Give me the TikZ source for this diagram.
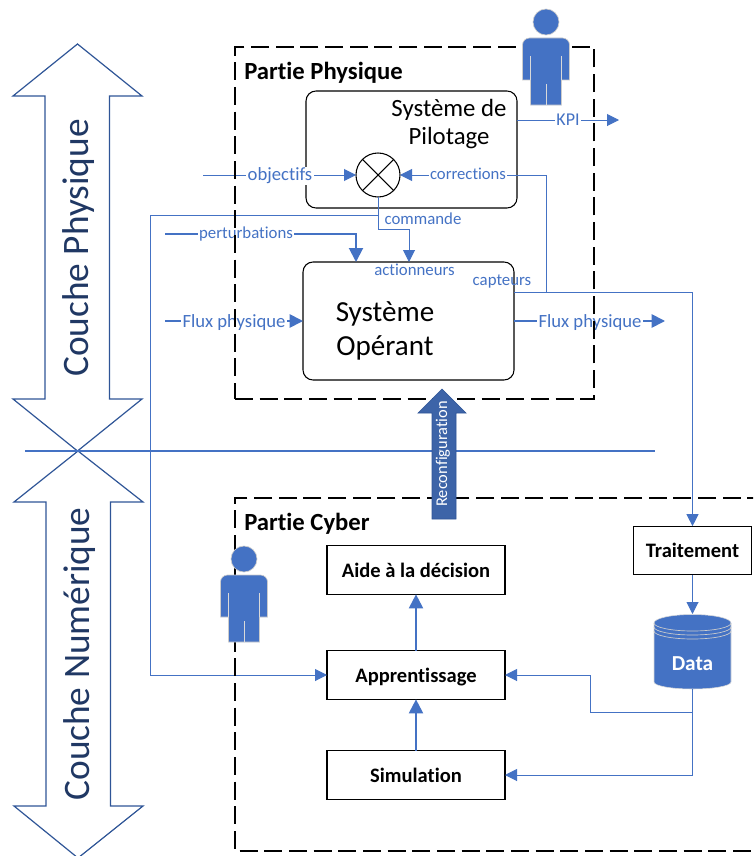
\documentclass[tikz,border=0pt]{standalone}
\usepackage{fontspec}
\setmainfont[Ligatures=NoCommon]{Carlito}
\usetikzlibrary{arrows.meta,calc}
\definecolor{bl}{HTML}{4472C4}
\definecolor{dk}{HTML}{2F5597}
\definecolor{dktxt}{HTML}{203864}
\definecolor{rec}{HTML}{3D64A8}
\newcommand{\fsz}[2]{\fontsize{#1}{#2}\selectfont}
\tikzset{
  x=0.75pt,y=-0.75pt,
  wire/.style={draw=bl,line width=0.75pt,-{Triangle[length=9pt,width=9pt]}},
  plainwire/.style={draw=bl,line width=0.75pt},
  fatwire/.style={draw=bl,line width=1.5pt,-{Triangle[length=10.5pt,width=10.5pt]}},
  fluxwire/.style={draw=bl,line width=1.3pt,-{Triangle[length=10pt,width=10pt]}},
  partbox/.style={draw=black,line width=1.5pt,dash pattern=on 13.5pt off 5pt},
  parttitle/.style={anchor=west,inner sep=0pt,font=\fsz{18.5}{22}\bfseries},
  sysbox/.style={draw=black,line width=0.8pt,rounded corners=7.5pt,fill=white,inner sep=0pt,outer sep=0pt},
  procbox/.style={draw=black,line width=0.8pt,fill=white,inner sep=0pt,outer sep=0pt,font=\fsz{15.4}{18}\bfseries,minimum height=36.5pt,text height=13.5pt,text depth=3pt},
  wlabel/.style={fill=white,inner sep=1pt,text=bl,font=\fsz{14}{16}},
  slabel/.style={inner sep=0pt,text=bl,font=\fsz{12.6}{15}},
  bigarrow/.style={draw=dk,line width=0.9pt,fill=white},
  layertxt/.style={rotate=90,text=dktxt,inner sep=0pt,font=\fsz{28}{32}},
  person/.pic={
    \fill[bl,draw=black!20,line width=0.5pt] (0,0) circle (13);
    \fill[bl,draw=black!20,line width=0.5pt] (-15.5,83) -- (-15.5,58) -- (-23.5,58) -- (-23.5,23)
      arc[start angle=180,end angle=270,radius=7] -- (16.5,16)
      arc[start angle=270,end angle=360,radius=7] -- (23.5,58) -- (15.5,58) -- (15.5,83) -- cycle;
    \draw[black!15,line width=0.5pt] (-15.5,34) -- (-15.5,58) (15.5,34) -- (15.5,58) (0,62) -- (0,83);
  },
}
\begin{document}
\begin{tikzpicture}
\useasboundingbox (0,0) rectangle (753,856);
\clip (0,0) rectangle (753,856);

% layer arrows
\draw[bigarrow] (77.5,44) -- (142,96) -- (109.5,96) -- (109.5,399) -- (142,399) -- (77.5,451) -- (13,399) -- (45,399) -- (45,96) -- (13,96) -- cycle;
\draw[bigarrow] (78,451) -- (143,502) -- (110.5,502) -- (110.5,806) -- (143,806) -- (78,858) -- (14,806) -- (46,806) -- (46,502) -- (14,502) -- cycle;
\node[layertxt] (cphys) at (79,248) {Couche Physique};
\node[layertxt] (cnum) at (80,654) {Couche Numérique};

% physical blocks
\node[sysbox,minimum width=158.25pt,minimum height=87.75pt] (pilot) at (411.5,149.5) {};
\node[sysbox,minimum width=158.25pt,minimum height=88.5pt] (oper) at (408.5,321) {};
\node[inner sep=0pt,align=center,font=\fsz{18.6}{21.6}] (pilottxt) at (449,124) {Système de\\Pilotage};
\node[inner sep=0pt,align=center,font=\fsz{21.8}{25.5}] (opertxt) at (385,331) {Système\\Opérant};
\node[circle,draw=black,line width=0.8pt,fill=white,minimum size=33pt,inner sep=0pt,outer sep=0pt] (cmp) at (378,175) {};
\draw[black,line width=0.8pt] (cmp.north west) -- (cmp.south east) (cmp.north east) -- (cmp.south west);

% cyber blocks
\node[procbox,minimum width=133.5pt] (aide) at (416,570) {Aide à la décision};
\node[procbox,minimum width=133.5pt] (appr) at (416,675) {Apprentissage};
\node[procbox,minimum width=133.5pt] (simu) at (416,775) {Simulation};
\node[procbox,minimum width=89pt] (trait) at (692.5,550.5) {Traitement};
\node[inner sep=0pt,outer sep=0pt,minimum width=57.75pt,minimum height=56.25pt] (data) at (692.5,651.5) {};
\fill[bl,draw=black!15,line width=0.4pt] (654,623) arc[x radius=38.5,y radius=8.5,start angle=180,end angle=360] -- (731,682)
  arc[x radius=38.5,y radius=7,start angle=0,end angle=180] -- cycle;
\draw[white!80!black,line width=0.5pt] (654,623) arc[x radius=38.5,y radius=8,start angle=180,end angle=0]
  (654,627) arc[x radius=38.5,y radius=8,start angle=180,end angle=0]
  (654,631) arc[x radius=38.5,y radius=8,start angle=180,end angle=0];
\node[inner sep=0pt,text=white,font=\fsz{16}{18}\bfseries] (datatxt) at (692.5,664) {Data};

% helper coordinates
\coordinate (objin) at (203,175);
\coordinate (kpiout) at (619,120);
\coordinate (pertin) at (165,234);
\coordinate (pertbend) at (356,234);
\coordinate (fluxin) at (165,321);
\coordinate (fluxout) at (665,321);
\coordinate (split) at (378,215);
\coordinate (cmdbend) at (378,229);
\coordinate (actbend) at (409,229);
\coordinate (fbleft) at (150,215);
\coordinate (capt) at (514,292);
\coordinate (captbr) at (546,292);
\coordinate (corr) at (546,175);
\coordinate (captr) at (692.5,292);
\coordinate (dsplit) at (692.5,712);
\coordinate (dleft) at (590,712);
\coordinate (dup) at (590,675);
\coordinate (dlow) at (692.5,775);
\coordinate (hl) at (25,451);
\coordinate (hr) at (655,451);

% connectors
\draw[draw=bl,line width=1.5pt] (hl) -- (hr);
\draw[wire] (objin) -- (cmp.west);
\draw[wire] (corr) -- (cmp.east);
\draw[plainwire] (capt) -- (captbr) -- (corr);
\draw[wire] (pilot.east |- kpiout) -- (kpiout);
\draw[plainwire] (cmp.south) -- (cmdbend);
\draw[wire] (cmdbend) -- (actbend) -- (actbend |- oper.north);
\draw[wire] (split) -- (fbleft) -- (fbleft |- appr.west) -- (appr.west);
\draw[fatwire] (pertin) -- (pertbend) -- (pertbend |- oper.north);
\draw[fluxwire] (fluxin) -- (oper.west);
\draw[fluxwire] (oper.east) -- (fluxout);
\draw[wire] (capt) -- (captr) -- (trait.north);
\draw[wire] (trait.south) -- (data.north);
\draw[plainwire] (data.south) -- (dlow);
\draw[wire] (dsplit) -- (dleft) -- (dup) -- (appr.east);
\draw[wire] (dlow) -- (simu.east);
\draw[fatwire] (appr.north) -- (aide.south);
\draw[fatwire] (simu.north) -- (appr.south);

% labels
\node[wlabel] (lobj) at (280,176) {objectifs};
\node[wlabel,font=\fsz{12.5}{15}] (lcorr) at (468,174) {corrections};
\node[wlabel,font=\fsz{13.5}{16}] (lkpi) at (568,120) {KPI};
\node[wlabel,font=\fsz{12.6}{15}] (lpert) at (246,234) {perturbations};
\node[wlabel] (lfin) at (234,322.5) {Flux physique};
\node[wlabel] (lfout) at (590,322.5) {Flux physique};
\node[slabel] (lcmd) at (423,219) {commande};
\node[slabel] (lact) at (414.5,270) {actionneurs};
\node[slabel] (lcap) at (502,282) {capteurs};

% dashed frames
\node[inner sep=0pt,outer sep=0pt,minimum width=269.25pt,minimum height=264pt,partbox] (phys) at (414.5,223) {};
\draw[partbox] (790,498) -- (235,498) -- (235,851) -- (790,851);
\node[parttitle] (tphys) at (244,73) {Partie Physique};
\node[parttitle] (tcyb) at (244,524) {Partie Cyber};

% persons
\pic at (546,22) {person};
\pic at (244,559) {person};

% reconfiguration arrow
\fill[rec,draw=dk,line width=0.5pt] (442,389) -- (466,413) -- (456,413) -- (456,519) -- (432,519) -- (432,413) -- (418,413) -- cycle;
\node[rotate=90,inner sep=0pt,text=white,font=\fsz{12.3}{14}] (lrec) at (443,454) {Reconfiguration};
\end{tikzpicture}
\end{document}
